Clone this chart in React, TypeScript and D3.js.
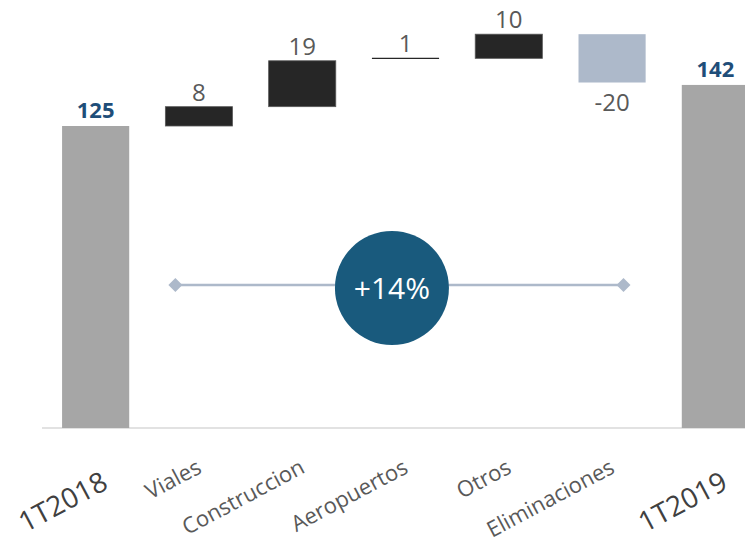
import React from "react";
import * as d3 from "d3";

const categories = ["1T2018", "Viales", "Construccion", "Aeropuertos", "Otros", "Eliminaciones", "1T2019"];
const startValue = 125;
const deltas = [8, 19, 1, 10, -20];
const endValue = 142;
const growthLabel = "+14%";

const W = 745;
const H = 544;
const baseY = 428;

export default function App() {
  const x = d3.scaleBand<string>().domain(categories).range([44, 767]).paddingInner(0.35).paddingOuter(0.175);
  const y = d3.scaleLinear().domain([0, 170]).range([baseY, baseY - 170 * 2.416]);

  type Bar = { cat: string; y0: number; y1: number; kind: "total" | "pos" | "neg"; label: string; value: number };
  const bars: Bar[] = [];
  bars.push({ cat: categories[0], y0: 0, y1: startValue, kind: "total", label: String(startValue), value: startValue });
  let cum = startValue;
  deltas.forEach((d, i) => {
    const a = cum;
    cum += d;
    bars.push({ cat: categories[i + 1], y0: Math.min(a, cum), y1: Math.max(a, cum), kind: d >= 0 ? "pos" : "neg", label: String(d), value: d });
  });
  bars.push({ cat: categories[6], y0: 0, y1: endValue, kind: "total", label: String(endValue), value: endValue });

  const bw = x.bandwidth();
  const font = "'Open Sans', 'DejaVu Sans', sans-serif";
  const lineY = 285;
  const dLeft = (x("Viales") as number) + 10;
  const dRight = (x("Eliminaciones") as number) + 45;
  const cx = (x("Aeropuertos") as number) + 20;

  return (
    <svg width={W} height={H} style={{ position: "absolute", left: 0, top: 0 }} fontFamily={font}>
      <rect width={W} height={H} fill="#ffffff" />
      <line x1={42} x2={W} y1={baseY} y2={baseY} stroke="#d9d9d9" strokeWidth={1.5} />
      {bars.map((b) => {
        const bx = x(b.cat) as number;
        const top = y(b.y1);
        const bottom = y(b.y0);
        const h = bottom - top;
        if (b.kind === "total") {
          return (
            <g key={b.cat}>
              <rect x={bx} y={top} width={bw} height={h} fill="#a6a6a6" />
              <text x={bx + bw / 2} y={top - 8} textAnchor="middle" fontSize={22} fontWeight="bold" fill="#1f4e79">{b.label}</text>
            </g>
          );
        }
        if (b.kind === "neg") {
          return (
            <g key={b.cat}>
              <rect x={bx} y={top} width={bw} height={h} fill="#adb9ca" />
              <text x={bx + bw / 2} y={bottom + 28} textAnchor="middle" fontSize={24} fill="#595959">{b.label}</text>
            </g>
          );
        }
        return (
          <g key={b.cat}>
            {h < 3 ? (
              <line x1={bx} x2={bx + bw} y1={top} y2={top} stroke="#262626" strokeWidth={1.2} />
            ) : (
              <rect x={bx} y={top} width={bw} height={h} fill="#262626" stroke="#595959" strokeWidth={0.8} />
            )}
            <text x={bx + bw / 2} y={top - 6} textAnchor="middle" fontSize={24} fill="#595959">{b.label}</text>
          </g>
        );
      })}
      <line x1={dLeft} x2={dRight} y1={lineY} y2={lineY} stroke="#adb9ca" strokeWidth={2.5} />
      {[dLeft, dRight].map((dx, i) => (
        <path key={i} d={`M${dx - 7},${lineY} L${dx},${lineY - 7} L${dx + 7},${lineY} L${dx},${lineY + 7} Z`} fill="#adb9ca" />
      ))}
      <circle cx={cx} cy={lineY + 3} r={57} fill="#195a7d" />
      <text x={cx} y={lineY + 14} textAnchor="middle" fontSize={30} fill="#ffffff">{growthLabel}</text>
      {categories.map((c, i) => {
        const big = i === 0 || i === categories.length - 1;
        const tx = (x(c) as number) + bw / 2 + (big ? 14 : 4);
        const ty = big ? 488 : 472;
        return (
          <text key={c} x={tx} y={ty} textAnchor="end" fontSize={big ? 28 : 22} fill={big ? "#404040" : "#595959"} transform={`rotate(-28, ${tx}, ${ty})`}>
            {c}
          </text>
        );
      })}
    </svg>
  );
}
